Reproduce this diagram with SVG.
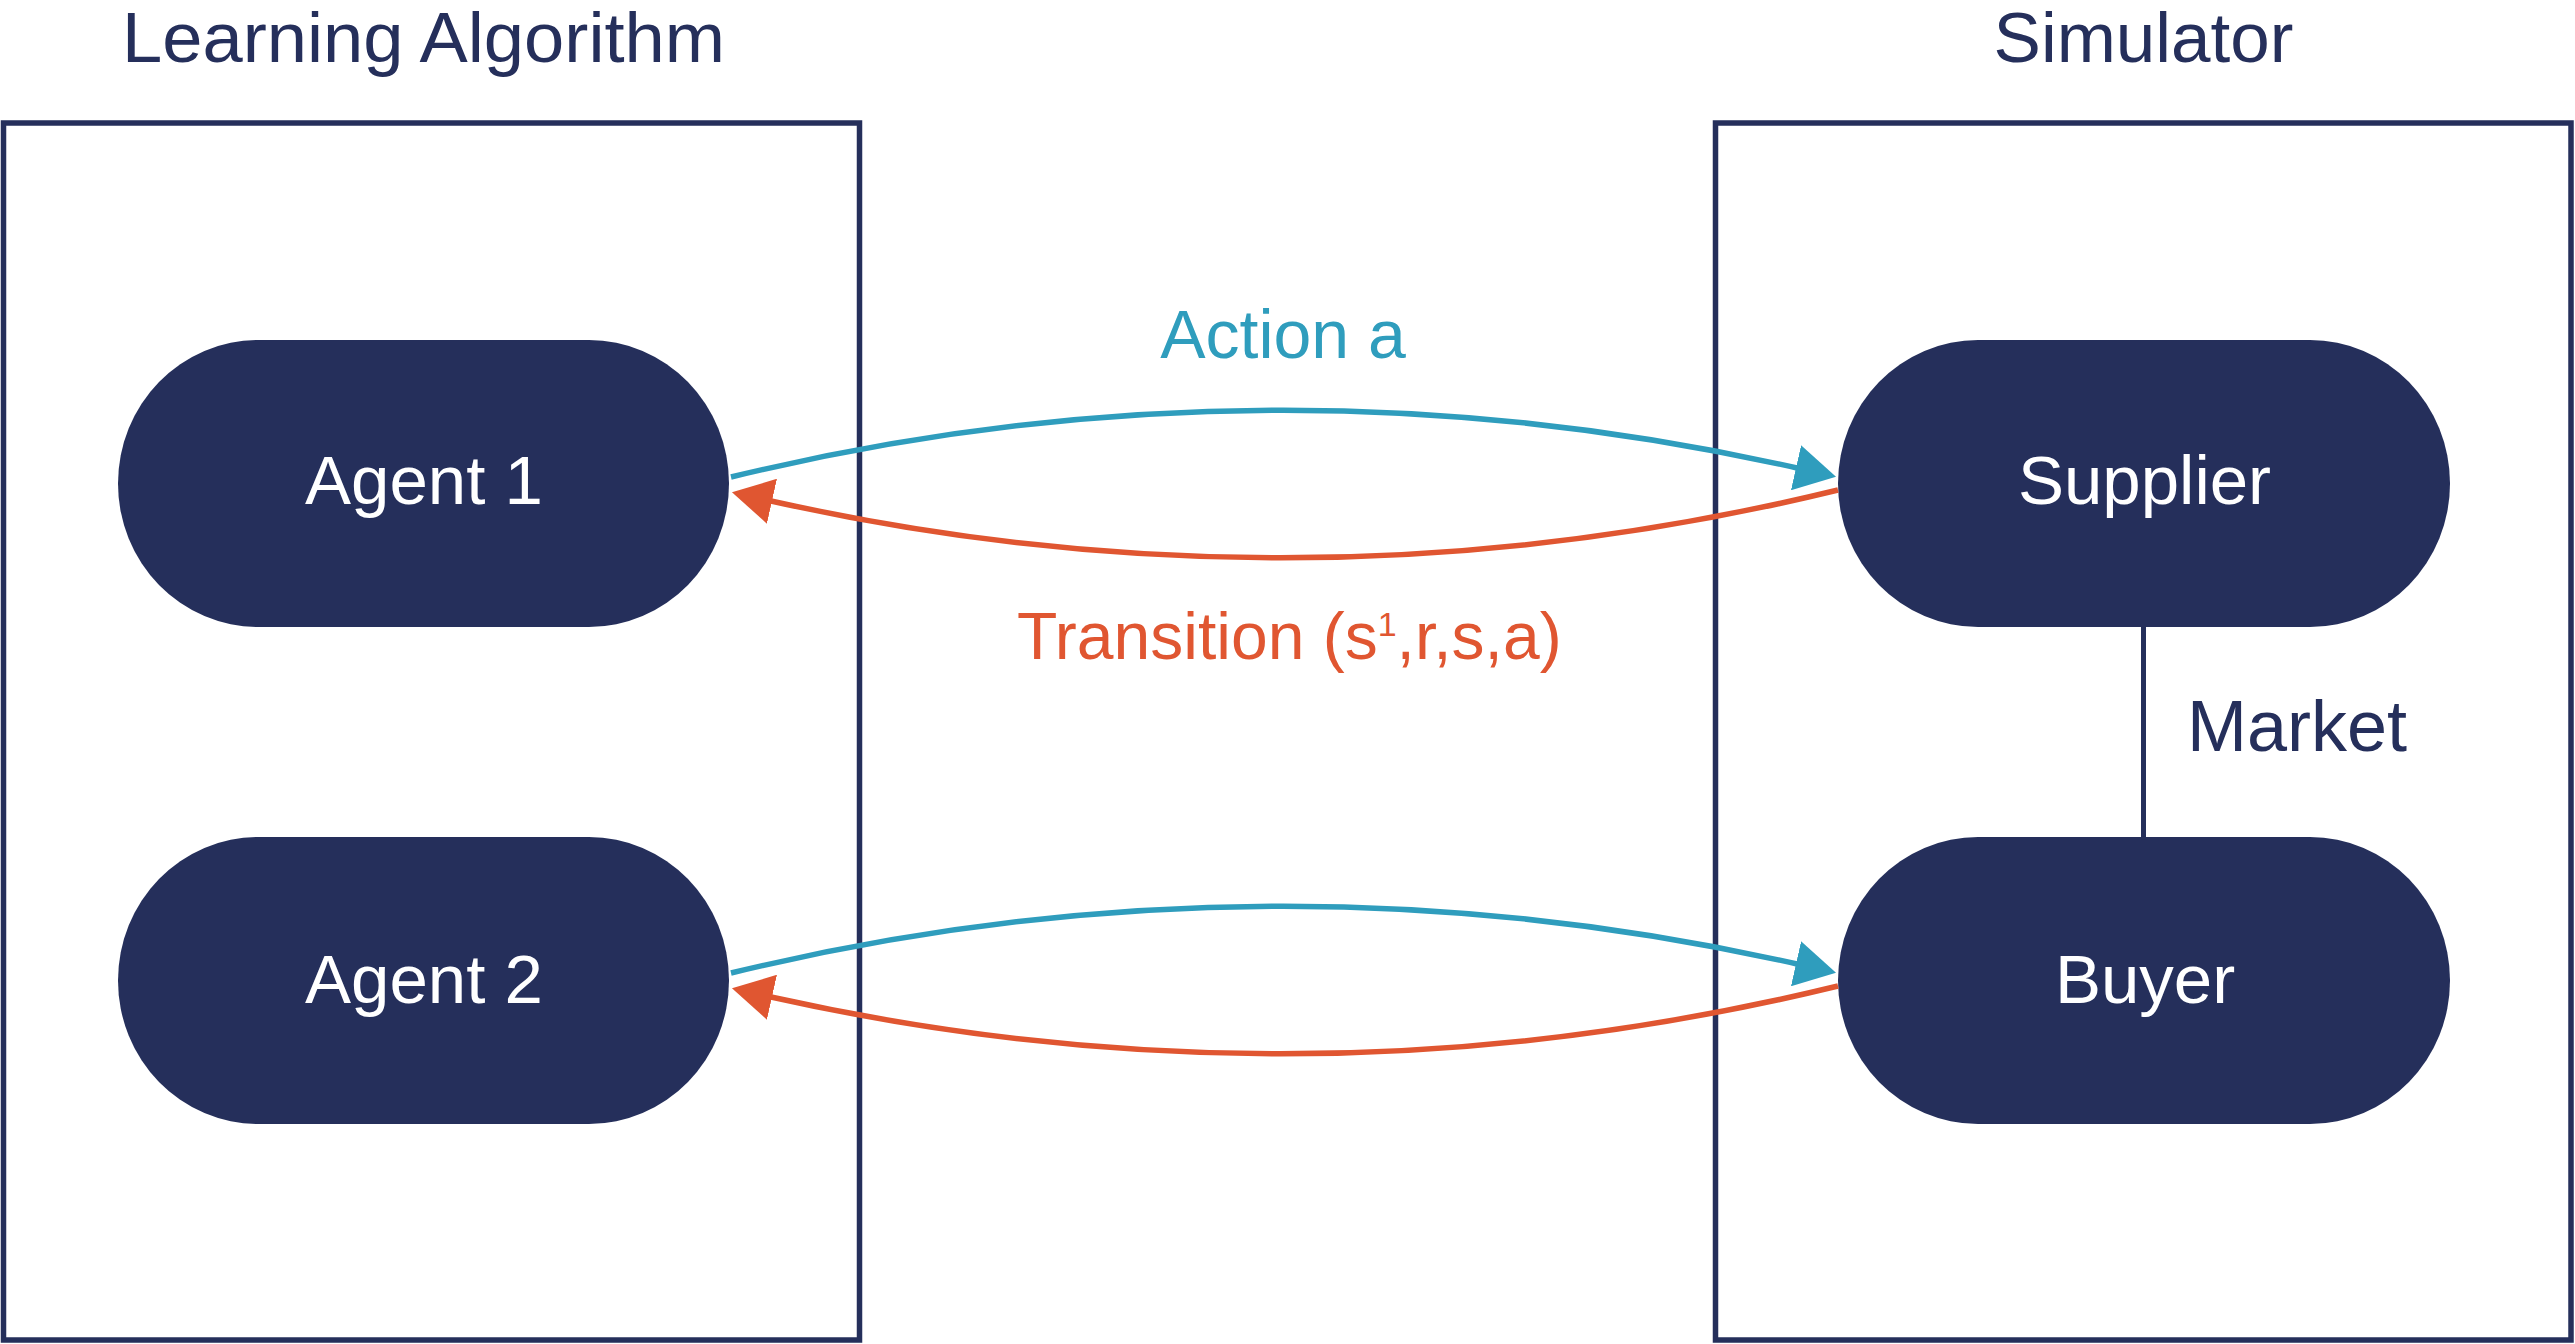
<svg xmlns="http://www.w3.org/2000/svg" width="2575" height="1344" viewBox="0 0 2575 1344">
  <style>
    .frame { fill: none; stroke: #252f5b; stroke-width: 5.5; }
    .node { fill: #252f5b; }
    .title { font-family: "Liberation Sans", Arial, sans-serif; font-size: 71px; fill: #252f5b; text-anchor: middle; }
    .ntext { font-family: "Liberation Sans", Arial, sans-serif; font-size: 69px; fill: #ffffff; text-anchor: middle; }
    .lbl { font-family: "Liberation Sans", Arial, sans-serif; }
    .act { fill: none; stroke: #2f9dbd; stroke-width: 5.5; }
    .trn { fill: none; stroke: #e05631; stroke-width: 5.5; }
    .mkt { stroke: #252f5b; stroke-width: 5; }
  </style>
  <defs>
    <marker id="ahBlue" markerUnits="userSpaceOnUse" viewBox="0 0 42 46" markerWidth="42" markerHeight="46" refX="1" refY="23" orient="auto">
      <path d="M0,0 L41,23 L0,46 z" fill="#2f9dbd"/>
    </marker>
    <marker id="ahOrange" markerUnits="userSpaceOnUse" viewBox="0 0 42 46" markerWidth="42" markerHeight="46" refX="1" refY="23" orient="auto">
      <path d="M0,0 L41,23 L0,46 z" fill="#e05631"/>
    </marker>
  </defs>

  <g id="learning-algorithm">
    <rect class="frame" x="3.5" y="123" width="856" height="1217"/>
    <text class="title" x="423.5" y="62" textLength="603" lengthAdjust="spacingAndGlyphs">Learning Algorithm</text>
  </g>
  <g id="simulator">
    <rect class="frame" x="1715.5" y="123" width="855.5" height="1217"/>
    <text class="title" x="2143.5" y="62">Simulator</text>
  </g>

  <g id="agent1">
    <rect class="node" x="118" y="340" width="611" height="287" rx="140" ry="143.5"/>
    <text class="ntext" x="424" y="504">Agent 1</text>
  </g>
  <g id="agent2">
    <rect class="node" x="118" y="837" width="611" height="287" rx="140" ry="143.5"/>
    <text class="ntext" x="424" y="1003">Agent 2</text>
  </g>
  <g id="supplier">
    <rect class="node" x="1838" y="340" width="612" height="287" rx="140" ry="143.5"/>
    <text class="ntext" x="2144.5" y="504">Supplier</text>
  </g>
  <g id="buyer">
    <rect class="node" x="1838" y="837" width="612" height="287" rx="140" ry="143.5"/>
    <text class="ntext" x="2145" y="1003">Buyer</text>
  </g>

  <g id="connectors">
    <path class="act" d="M731,477 Q1264,348 1797,468" marker-end="url(#ahBlue)"/>
    <path class="trn" d="M1838,490 Q1304,620 771,501" marker-end="url(#ahOrange)"/>
    <path class="act" d="M731,973 Q1264,844 1797,964" marker-end="url(#ahBlue)"/>
    <path class="trn" d="M1838,986 Q1304,1116 771,997" marker-end="url(#ahOrange)"/>
    <line class="mkt" x1="2143.5" y1="627" x2="2143.5" y2="837"/>
    <text class="lbl" x="1283" y="358" text-anchor="middle" font-size="68" fill="#2f9dbd">Action a</text>
    <text class="lbl" x="1017" y="659" font-size="66" fill="#e05631">Transition (s<tspan font-size="34" dy="-23">1</tspan><tspan dy="23">,r,s,a)</tspan></text>
    <text class="lbl" x="2187" y="751" font-size="72" fill="#252f5b">Market</text>
  </g>
</svg>
